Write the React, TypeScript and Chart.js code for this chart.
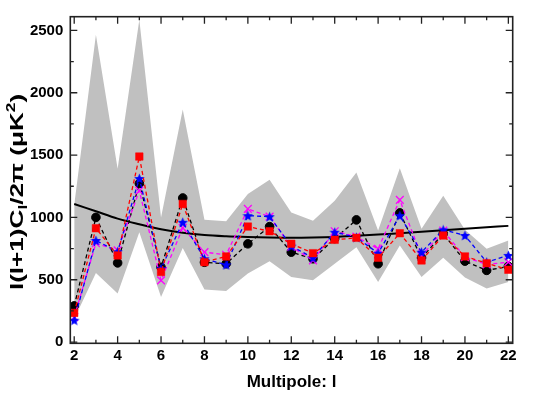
import React, { useEffect, useRef } from 'react';
import { Chart, registerables } from 'chart.js';

Chart.register(...registerables);

const ells = [2, 3, 4, 5, 6, 7, 8, 9, 10, 11, 12, 13, 14, 15, 16, 17, 18, 19, 20, 21, 22];
const bandUpper = [1100, 2466, 1390, 2585, 1000, 1866, 982, 969, 1187, 1302, 1040, 974, 1134, 1360, 894, 1395, 908, 1174, 900, 748, 815];
const bandLower = [185, 554, 389, 881, 362, 755, 421, 410, 549, 649, 522, 495, 628, 761, 482, 775, 522, 676, 517, 429, 482];
const theory = [1108, 1049, 990, 945, 905, 877, 858, 848, 842, 838, 836, 838, 843, 852, 862, 873, 884, 896, 908, 920, 932];
const seriesBlack = [290, 1000, 635, 1272, 600, 1156, 640, 628, 788, 926, 721, 668, 830, 980, 628, 1036, 675, 870, 649, 575, 607];
const seriesRed = [234, 913, 695, 1488, 562, 1108, 641, 687, 926, 889, 788, 713, 820, 836, 676, 873, 655, 855, 687, 633, 580];
const seriesBlue = [175, 815, 725, 1312, 590, 961, 668, 620, 1014, 1006, 770, 676, 881, 840, 712, 1014, 721, 900, 855, 641, 695];
const seriesMagenta = [200, 793, 735, 1214, 495, 916, 721, 700, 1068, 1006, 765, 655, 889, 845, 748, 1140, 690, 894, 681, 623, 641];

const xMajorTicks = [2, 4, 6, 8, 10, 12, 14, 16, 18, 20, 22];
const xMinorTicks = [3, 5, 7, 9, 11, 13, 15, 17, 19, 21];
const yMajorTicks = [0, 500, 1000, 1500, 2000, 2500];
const yMinorTicks = [250, 750, 1250, 1750, 2250];

const FONT = '"Liberation Sans", Arial, sans-serif';

function toXY(ys: number[]) {
  return ells.map((l, i) => ({ x: l, y: ys[i] }));
}

function makeStar(size: number, color: string) {
  const c = document.createElement('canvas');
  c.width = size;
  c.height = size;
  const ctx = c.getContext('2d')!;
  ctx.fillStyle = color;
  ctx.beginPath();
  const cx = size / 2;
  const cy = size / 2 + size * 0.05;
  const R = size / 2;
  const r = R * 0.45;
  for (let i = 0; i < 10; i++) {
    const ang = -Math.PI / 2 + (i * Math.PI) / 5;
    const rad = i % 2 === 0 ? R : r;
    ctx.lineTo(cx + rad * Math.cos(ang), cy + rad * Math.sin(ang));
  }
  ctx.closePath();
  ctx.fill();
  return c;
}

const framePlugin = {
  id: 'frameTicks',
  afterDatasetsDraw(chart: any) {
    const { ctx, chartArea, scales } = chart;
    const { left, right, top, bottom } = chartArea;
    ctx.save();
    ctx.strokeStyle = '#222';
    ctx.lineWidth = 1.6;
    ctx.strokeRect(left, top, right - left, bottom - top);
    ctx.lineWidth = 1.3;
    const drawX = (vals: number[], len: number) => {
      vals.forEach((v) => {
        const px = scales.x.getPixelForValue(v);
        ctx.beginPath();
        ctx.moveTo(px, bottom);
        ctx.lineTo(px, bottom - len);
        ctx.moveTo(px, top);
        ctx.lineTo(px, top + len);
        ctx.stroke();
      });
    };
    const drawY = (vals: number[], len: number) => {
      vals.forEach((v) => {
        const py = scales.y.getPixelForValue(v);
        ctx.beginPath();
        ctx.moveTo(left, py);
        ctx.lineTo(left + len, py);
        ctx.moveTo(right, py);
        ctx.lineTo(right - len, py);
        ctx.stroke();
      });
    };
    drawX(xMajorTicks, 7);
    drawX(xMinorTicks, 3.5);
    drawY(yMajorTicks, 7);
    drawY(yMinorTicks, 3.5);
    ctx.restore();
  },
};

const yTitlePlugin = {
  id: 'yTitle',
  afterDraw(chart: any) {
    const ctx = chart.ctx;
    const big = 18;
    const small = 12;
    const parts = [
      { t: 'l(l+1)C', size: big, dy: 0 },
      { t: 'l', size: small, dy: 4 },
      { t: '/2\u03C0 (\u03BCK', size: big, dy: 0 },
      { t: '2', size: small, dy: -8 },
      { t: ')', size: big, dy: 0 },
    ];
    ctx.save();
    ctx.fillStyle = '#000';
    let total = 0;
    const widths = parts.map((p) => {
      ctx.font = `bold ${p.size}px ${FONT}`;
      const w = ctx.measureText(p.t).width;
      total += w;
      return w;
    });
    const stretch = 1.45;
    ctx.translate(16, 192);
    ctx.rotate(-Math.PI / 2);
    ctx.scale(stretch, 1);
    let x = -total / 2;
    ctx.textBaseline = 'alphabetic';
    ctx.textAlign = 'left';
    parts.forEach((p, i) => {
      ctx.font = `bold ${p.size}px ${FONT}`;
      ctx.fillText(p.t, x, 6.5 + p.dy);
      x += widths[i];
    });
    ctx.restore();
  },
};

export default function App() {
  const canvasRef = useRef<HTMLCanvasElement | null>(null);

  useEffect(() => {
    if (!canvasRef.current) return;
    const star = makeStar(11, '#0000ff');
    const dashW = 1.3;
    const dash = [4, 3];
    const chart = new Chart(canvasRef.current, {
      type: 'line',
      data: {
        datasets: [
          {
            label: 'lower',
            data: toXY(bandLower),
            borderColor: 'rgba(0,0,0,0)',
            borderWidth: 0,
            pointRadius: 0,
            fill: false,
            order: 20,
          },
          {
            label: 'upper',
            data: toXY(bandUpper),
            borderColor: 'rgba(0,0,0,0)',
            backgroundColor: '#c0c0c0',
            borderWidth: 0,
            pointRadius: 0,
            fill: '-1',
            order: 19,
          },
          {
            label: 'theory',
            data: toXY(theory),
            borderColor: '#000',
            borderWidth: 2,
            pointRadius: 0,
            cubicInterpolationMode: 'monotone',
            fill: false,
            order: 10,
          },
          {
            label: 'black',
            data: toXY(seriesBlack),
            borderColor: '#000',
            borderWidth: dashW,
            borderDash: dash,
            pointStyle: 'circle',
            pointRadius: 4.3,
            pointBackgroundColor: '#000',
            pointBorderColor: '#000',
            pointBorderWidth: 1,
            fill: false,
            order: 6,
          },
          {
            label: 'magenta',
            data: toXY(seriesMagenta),
            borderColor: '#ff00ff',
            borderWidth: dashW,
            borderDash: dash,
            pointStyle: 'crossRot',
            pointRadius: 5.5,
            pointBorderColor: '#ff00ff',
            pointBorderWidth: 1.3,
            fill: false,
            order: 5,
          },
          {
            label: 'blue',
            data: toXY(seriesBlue),
            borderColor: '#0000ff',
            borderWidth: dashW,
            borderDash: dash,
            pointStyle: star,
            pointRadius: 5,
            fill: false,
            order: 4,
          },
          {
            label: 'red',
            data: toXY(seriesRed),
            borderColor: '#ff0000',
            borderWidth: dashW,
            borderDash: dash,
            pointStyle: 'rect',
            pointRadius: 5.3,
            pointBackgroundColor: '#ff0000',
            pointBorderColor: '#ff0000',
            pointBorderWidth: 0.5,
            fill: false,
            order: 3,
          },
        ] as any,
      },
      options: {
        animation: false,
        responsive: true,
        maintainAspectRatio: false,
        layout: { padding: { top: 16.7, right: 32.3, left: 0, bottom: 0 } },
        plugins: {
          legend: { display: false },
          tooltip: { enabled: false },
        },
        scales: {
          x: {
            type: 'linear',
            min: 1.82,
            max: 22.2,
            grid: { display: false, drawTicks: false },
            border: { display: false },
            afterBuildTicks: (s: any) => {
              s.ticks = xMajorTicks.map((v) => ({ value: v }));
            },
            afterFit: (s: any) => {
              s.height = 52.7;
            },
            ticks: {
              padding: 4,
              color: '#000',
              font: { family: FONT, size: 15, weight: 'bold' },
              maxRotation: 0,
              autoSkip: false,
              callback: (v: any) => String(v),
            },
            title: {
              display: true,
              text: 'Multipole: l',
              color: '#000',
              font: { family: FONT, size: 17, weight: 'bold' },
              padding: { top: 0, bottom: 3 },
            },
          },
          y: {
            type: 'linear',
            min: -10,
            max: 2610,
            grid: { display: false, drawTicks: false },
            border: { display: false },
            afterBuildTicks: (s: any) => {
              s.ticks = yMajorTicks.map((v) => ({ value: v }));
            },
            afterFit: (s: any) => {
              s.width = 70.3;
            },
            ticks: {
              padding: 7,
              color: '#000',
              font: { family: FONT, size: 15, weight: 'bold' },
              autoSkip: false,
              callback: (v: any) => String(v),
            },
          },
        },
      } as any,
      plugins: [framePlugin, yTitlePlugin],
    });
    return () => chart.destroy();
  }, []);

  return (
    <div style={{ position: 'fixed', left: 0, top: 0, width: 545, height: 396, background: '#fff' }}>
      <canvas ref={canvasRef} />
    </div>
  );
}
